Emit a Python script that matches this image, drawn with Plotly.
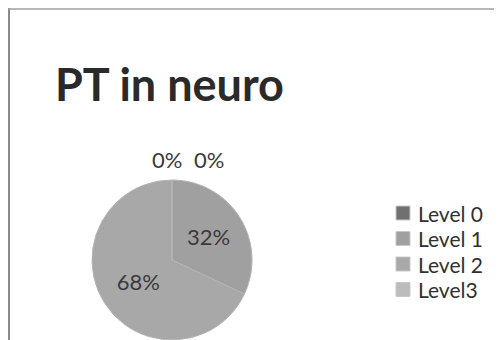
import plotly.graph_objects as go

title = "PT in neuro"
labels = ["Level 0", "Level 1", "Level 2", "Level3"]
values = [0, 32, 68, 0]
colors = ["#707070", "#a0a0a0", "#a8a8a8", "#bcbcbc"]

# the page body has an 8px margin; the figure fills the rest of the window
OFF = 8
W, H = 502 - OFF, 340 - OFF


def px(x):
    return (x - OFF) / W


def py(y):
    return 1 - (y - OFF) / H


total = sum(values)
pct_text = [f"{v / total * 100:.0f}%" for v in values]

fig = go.Figure()
fig.add_trace(go.Pie(
    labels=labels,
    values=values,
    sort=False,
    direction="clockwise",
    rotation=0,
    marker=dict(colors=colors, line=dict(color="#b4b4b4", width=1)),
    text=pct_text,
    texttemplate="%{text}",
    textposition=["none" if v == 0 else "inside" for v in values],
    textfont=dict(family="Lato", size=22, color="#3a3a3a"),
    insidetextorientation="horizontal",
    domain=dict(x=[px(91), px(253)], y=[0, py(180)]),
    showlegend=False,
    hoverinfo="label+percent",
))

annotations = []
# labels of the zero-value slices, set above the pie
zero_pos = iter([167, 209])
for t, v in zip(pct_text, values):
    if v == 0:
        annotations.append(dict(
            text=t, x=px(next(zero_pos)), y=py(160), xref="paper", yref="paper",
            xanchor="center", yanchor="middle", showarrow=False,
            font=dict(family="Lato", size=22, color="#3a3a3a")))

shapes = [
    dict(type="line", xref="paper", yref="paper", x0=px(9), x1=px(9),
         y0=0, y1=py(5), line=dict(color="#8a8a8a", width=2)),
    dict(type="line", xref="paper", yref="paper", x0=px(8), x1=1,
         y0=py(9), y1=py(9), line=dict(color="#a0a0a0", width=1.5)),
]

# legend
row_y = [213, 238.5, 264, 289.5]
for lab, col, yy in zip(labels, colors, row_y):
    shapes.append(dict(type="rect", xref="paper", yref="paper",
                       x0=px(396), x1=px(410), y0=py(yy + 7), y1=py(yy - 7),
                       fillcolor=col, line=dict(color="#c8c8c8", width=1)))
    annotations.append(dict(
        text=lab, x=px(417), y=py(yy), xref="paper", yref="paper",
        xanchor="left", yanchor="middle", showarrow=False, borderpad=0,
        font=dict(family="Lato", size=21, color="#303030")))

fig.update_layout(
    width=W, height=H,
    margin=dict(l=0, r=0, t=0, b=0),
    paper_bgcolor="white",
    plot_bgcolor="white",
    title=dict(text="<b>" + title + "</b>", x=px(55), xanchor="left",
               y=py(85), yanchor="middle", pad=dict(l=0, r=0, t=0, b=0),
               font=dict(family="Lato", size=45, color="#2a2a2a")),
    shapes=shapes,
    annotations=annotations,
)

fig.write_html("out.html")
